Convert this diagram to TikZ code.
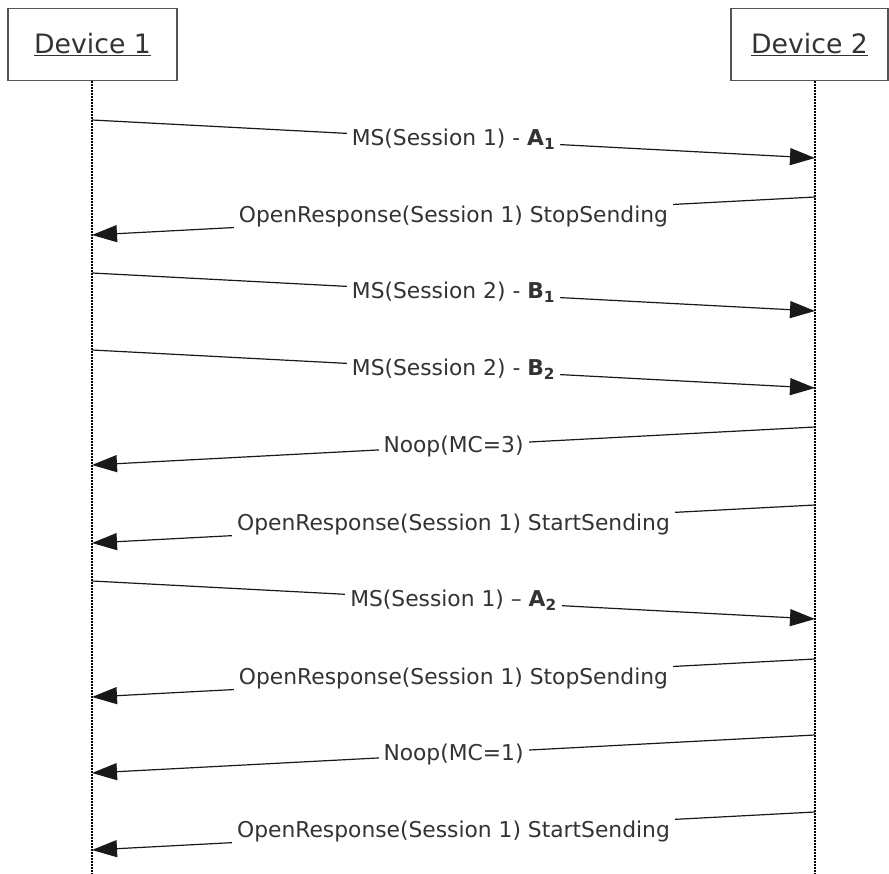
\documentclass[tikz,border=0pt]{standalone}
\usepackage{fontspec}
\setmainfont{DejaVu Sans}
\usetikzlibrary{arrows.meta}
\definecolor{ink}{HTML}{333333}
\definecolor{frame}{HTML}{555555}
\begin{document}
\begin{tikzpicture}[x=1pt,y=-1pt,>={Triangle[length=25pt,width=17pt]},
	device/.style={draw=frame,line width=1.5pt,minimum height=72pt,inner sep=0pt,text=ink,font=\fontsize{26.7}{30}\selectfont},
	lifeline/.style={line width=1.4pt,dash pattern=on 1.5pt off 1.5pt},
	msg/.style={->,line width=1.2pt,draw=black!90},
	lbl/.style={fill=white,inner xsep=5pt,inner ysep=2pt,text=ink,font=\fontsize{21.8}{25}\selectfont}]
	\useasboundingbox (0,0) rectangle (889,874);
	\node[device,minimum width=169pt] (dev1) at (92.5,44.5) {\underline{Device 1}};
	\node[device,minimum width=157pt] (dev2) at (809.5,44.5) {\underline{Device 2}};
	\coordinate (end1) at (92,874);
	\coordinate (end2) at (815,874);
	\draw[lifeline] (dev1.south-|end1) -- (end1);
	\draw[lifeline] (dev2.south-|end2) -- (end2);
	% message rows on both lifelines
	\foreach \n/\y in {1/120,2/197,3/273,4/350,5/427,6/505,7/581,8/659,9/735,10/812}{
		\path (92,\y) coordinate (a\n) (815,\y) coordinate (b\n)
			(92,\y+38) coordinate (c\n) (815,\y+38) coordinate (d\n);
	}
	\draw[msg] (a1) -- node[lbl]{MS(Session 1) - \textbf{A\textsubscript{1}}} (d1);
	\draw[msg] (b2) -- node[lbl]{OpenResponse(Session 1) StopSending} (c2);
	\draw[msg] (a3) -- node[lbl]{MS(Session 2) - \textbf{B\textsubscript{1}}} (d3);
	\draw[msg] (a4) -- node[lbl]{MS(Session 2) - \textbf{B\textsubscript{2}}} (d4);
	\draw[msg] (b5) -- node[lbl]{Noop(MC=3)} (c5);
	\draw[msg] (b6) -- node[lbl]{OpenResponse(Session 1) StartSending} (c6);
	\draw[msg] (a7) -- node[lbl]{MS(Session 1) – \textbf{A\textsubscript{2}}} (d7);
	\draw[msg] (b8) -- node[lbl]{OpenResponse(Session 1) StopSending} (c8);
	\draw[msg] (b9) -- node[lbl]{Noop(MC=1)} (c9);
	\draw[msg] (b10) -- node[lbl]{OpenResponse(Session 1) StartSending} (c10);
\end{tikzpicture}
\end{document}
